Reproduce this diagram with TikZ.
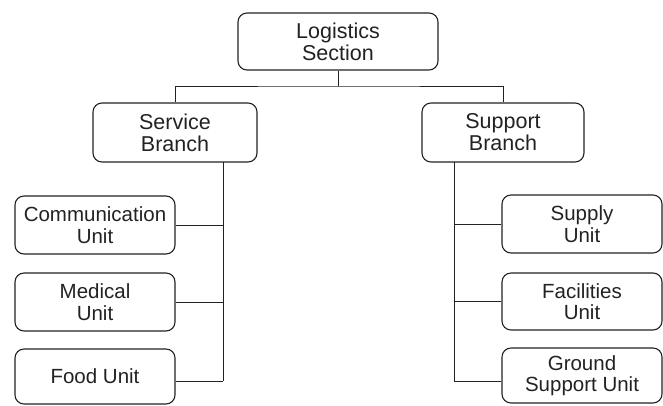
\documentclass[tikz,border=0pt]{standalone}
\usepackage{fontspec}
\setmainfont{Liberation Sans}
\definecolor{ink}{HTML}{222222}
\begin{document}
\begin{tikzpicture}[x=1pt,y=-1pt,
  box/.style={draw=ink, line width=1.1pt, rounded corners=9pt, inner sep=0pt,
    align=center, text=ink},
  bigbox/.style={box, font=\fontsize{21.5}{22}\selectfont},
  unitbox/.style={box, minimum width=160pt, font=\fontsize{20.5}{21.5}\selectfont},
  link/.style={draw=ink, line width=1pt}]
\useasboundingbox (0,0) rectangle (663,405);
\node[bigbox, minimum width=200pt, minimum height=57pt] (top) at (338,41.5) {Logistics\\Section};
\node[bigbox, minimum width=164pt, minimum height=59pt] (svc) at (175,132.5) {Service\\Branch};
\node[bigbox, minimum width=162pt, minimum height=59pt] (sup) at (503,132.5) {Support\\Branch};
\node[unitbox, minimum height=58pt] (comm) at (95,225) {Communication\\Unit};
\node[unitbox, minimum height=58pt] (med) at (95,302) {Medical\\Unit};
\node[unitbox, minimum height=55pt] (food) at (95,376.5) {Food Unit};
\node[unitbox, minimum height=58pt] (supply) at (582,224) {Supply\\Unit};
\node[unitbox, minimum height=57pt] (fac) at (582,301.5) {Facilities\\Unit};
\node[unitbox, minimum height=55pt] (ground) at (582,375.5) {Ground\\Support Unit};
\coordinate (bus) at (338,86);
\coordinate (lt) at (223,162);
\coordinate (lb) at (223,381);
\coordinate (rt) at (454,162);
\coordinate (rb) at (454,381);
\draw[link] (top) -- (bus);
\draw[link] (svc.north) |- (bus) -| (sup.north);
\draw[link] (lt) -- (lb);
\draw[link] (rt) -- (rb);
\draw[link] (comm.east) -- (comm.east -| lt);
\draw[link] (med.east) -- (med.east -| lt);
\draw[link] (lb) -- (lb -| food.east);
\draw[link] (supply.west) -- (supply.west -| rt);
\draw[link] (fac.west) -- (fac.west -| rt);
\draw[link] (rb) -- (rb -| ground.west);
\end{tikzpicture}
\end{document}
